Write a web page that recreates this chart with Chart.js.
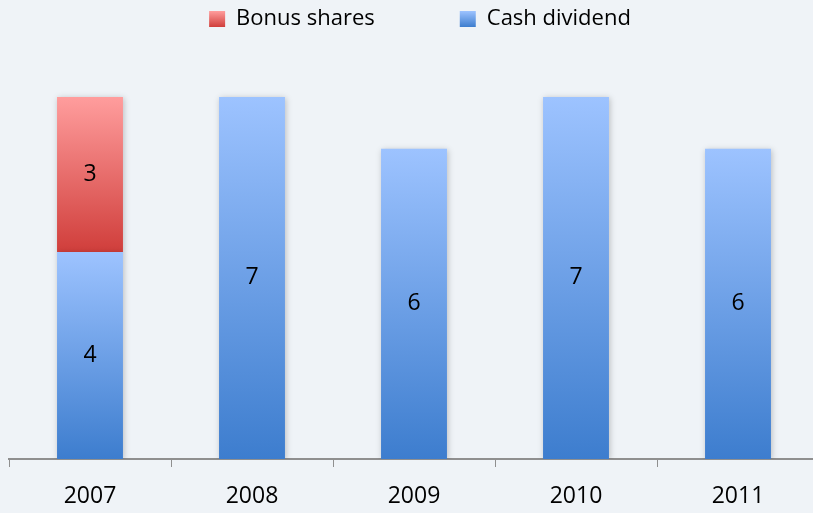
<!DOCTYPE html>
<html>
<head>
<meta charset="utf-8">
<script src="https://cdn.jsdelivr.net/npm/chart.js@4/dist/chart.umd.min.js"></script>
<style>
  html, body { margin: 0; padding: 0; background: #eff3f7; overflow: hidden; }
  #wrap { width: 819px; height: 513px; }
</style>
</head>
<body>
<div id="wrap"><canvas id="grafico"></canvas></div>
<script>
// ====== DADOS ======
const anos = ['2007', '2008', '2009', '2010', '2011'];
const dividendo = [4, 7, 6, 7, 6];
const bonus = [3, null, null, null, null];

// ====== CORES ======
const azul = ['#9dc3ff', '#3d7dce'];
const vermelho = ['#ff9d9d', '#d03e3b'];
const fonte = '"Open Sans", sans-serif';

// gradiente por barra (de cima para baixo)
function gradiente(c, cores, inicio, fim) {
  const chart = c.chart;
  const y = chart.scales && chart.scales.y;
  if (!y || c.type !== 'data') return cores[1];
  const topo = y.getPixelForValue(fim);
  const base = y.getPixelForValue(inicio);
  const g = chart.ctx.createLinearGradient(0, topo, 0, base);
  g.addColorStop(0, cores[0]);
  g.addColorStop(1, cores[1]);
  return g;
}

function legendaGradiente(ctx, cores) {
  const g = ctx.createLinearGradient(0, 11, 0, 27);
  g.addColorStop(0, cores[0]);
  g.addColorStop(1, cores[1]);
  return g;
}

// sombra nas barras
const sombra = {
  id: 'sombra',
  beforeDatasetsDraw(chart) {
    const c = chart.ctx;
    c.save();
    c.shadowColor = 'rgba(0,0,0,0.22)';
    c.shadowBlur = 6;
    c.shadowOffsetX = 1;
    c.shadowOffsetY = 1;
  },
  afterDatasetsDraw(chart) {
    chart.ctx.restore();
  }
};

// empurra a legenda um pouco para a direita
const ajusteLegenda = {
  id: 'ajusteLegenda',
  afterUpdate(chart) {
    const leg = chart.legend;
    if (!leg) return;
    leg.left += 6;
    leg.right += 6;
    if (leg.adjustHitBoxes) leg.adjustHitBoxes();
  }
};

// rótulos com os valores no meio da barra
const rotulos = {
  id: 'rotulos',
  afterDatasetsDraw(chart) {
    const c = chart.ctx;
    c.save();
    c.font = '23px ' + fonte;
    c.fillStyle = '#000';
    c.textAlign = 'center';
    c.textBaseline = 'middle';
    chart.data.datasets.forEach((ds, i) => {
      const meta = chart.getDatasetMeta(i);
      meta.data.forEach((bar, j) => {
        const v = ds.data[j];
        if (v == null) return;
        c.fillText(String(v), bar.x, (bar.y + bar.base) / 2);
      });
    });
    c.restore();
  }
};

const ctx = document.getElementById('grafico').getContext('2d');

new Chart(ctx, {
  type: 'bar',
  data: {
    labels: anos,
    datasets: [
      {
        label: 'Cash dividend',
        data: dividendo,
        backgroundColor: c => gradiente(c, azul, 0, dividendo[c.dataIndex]),
        _legenda: azul
      },
      {
        label: 'Bonus shares',
        data: bonus,
        backgroundColor: c => gradiente(c, vermelho, dividendo[c.dataIndex], dividendo[c.dataIndex] + (bonus[c.dataIndex] || 0)),
        _legenda: vermelho
      }
    ]
  },
  options: {
    responsive: true,
    maintainAspectRatio: false,
    animation: false,
    layout: { padding: { left: 9, right: 0, top: 0, bottom: 0 } },
    datasets: { bar: { categoryPercentage: 1, barPercentage: 0.407 } },
    plugins: {
      tooltip: { enabled: false },
      legend: {
        position: 'top',
        reverse: true,
        labels: {
          color: '#000',
          font: { family: fonte, size: 22 },
          boxWidth: 16,
          boxHeight: 16,
          padding: 8,
          generateLabels(chart) {
            return chart.data.datasets.map((ds, i) => ({
              // espaços extras para afastar os itens da legenda
              text: i === 1 ? ds.label + '\u2003\u2003\u2003\u2002' : ds.label,
              fillStyle: legendaGradiente(chart.ctx, ds._legenda),
              strokeStyle: 'rgba(0,0,0,0)',
              lineWidth: 0,
              datasetIndex: i,
              hidden: false
            }));
          }
        }
      }
    },
    scales: {
      x: {
        stacked: true,
        border: { display: true, color: '#8f8f8f', width: 2 },
        grid: { display: true, drawOnChartArea: false, drawTicks: true, tickLength: 8, color: '#8f8f8f', offset: true },
        ticks: { color: '#000', padding: 16, font: { family: fonte, size: 23 } },
        afterFit(scale) { scale.height = 54; }
      },
      y: {
        stacked: true,
        display: false,
        min: 0,
        max: 8.1
      }
    }
  },
  plugins: [sombra, ajusteLegenda, rotulos]
});
</script>
</body>
</html>
